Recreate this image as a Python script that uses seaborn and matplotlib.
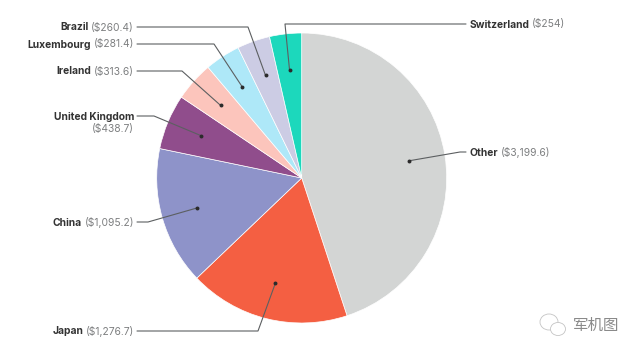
import numpy as np
import seaborn as sns
import matplotlib.pyplot as plt
from matplotlib.patches import Ellipse

countries = ["Other", "Japan", "China", "United Kingdom", "Ireland", "Luxembourg", "Brazil", "Switzerland"]
values = [3199.6, 1276.7, 1095.2, 438.7, 313.6, 281.4, 260.4, 254]
value_labels = ["($3,199.6)", "($1,276.7)", "($1,095.2)", "($438.7)", "($313.6)", "($281.4)", "($260.4)", "($254)"]
colors = ["#d3d5d4", "#f45f42", "#8e93c9", "#904d8c", "#fcc5bc", "#aee8f8", "#cccce4", "#1cd8bc"]

sns.set_theme(style="white")
plt.rcParams['font.family'] = ['Inter', 'DejaVu Sans']

W, H = 640, 353
fig, ax = plt.subplots(figsize=(W / 100, H / 100), dpi=100)
fig.subplots_adjust(left=0, right=1, top=1, bottom=0)

# work in pixels, y flipped by hand
def py(y):
    return H - y

cx, cy, R = 301.7, py(178), 145
wedges, _ = ax.pie(values, colors=sns.color_palette(colors), startangle=90, counterclock=False,
                   center=(cx, cy), radius=R, frame=True,
                   wedgeprops=dict(edgecolor="white", linewidth=0.5))
ax.set_xlim(0, W)
ax.set_ylim(0, H)
ax.set_aspect("equal")
ax.axis("off")

# label layout: elbow x, elbow y, line end x, text x
layout = {
    "Other": (460, 152, 466, 470),
    "Japan": (258, 331, 137, 134),
    "China": (148, 222, 137, 134),
    "United Kingdom": (154, 116, 137, 134),
    "Ireland": (182, 71, 137, 134),
    "Luxembourg": (214, 44, 137, 134),
    "Brazil": (248, 27, 137, 134),
    "Switzerland": (285, 24, 466, 470),
}
FS = 7.4
renderer = fig.canvas.get_renderer()

for name, lab, w in zip(countries, value_labels, wedges):
    mid = np.deg2rad((w.theta1 + w.theta2) / 2)
    dx, dy = cx + 0.75 * R * np.cos(mid), cy + 0.75 * R * np.sin(mid)
    ex, ey, lx, tx = layout[name]
    ax.plot([dx, ex, lx], [dy, py(ey), py(ey)], color="#5c5f61", lw=0.8, zorder=5)
    ax.scatter([dx], [dy], s=8, color="#2b2b2b", zorder=6, linewidths=0)

    ty = py(ey + 0.5)
    if name == "United Kingdom":
        ax.text(tx, ty, name, ha="right", va="center", fontsize=FS, fontweight="bold", color="#333333")
        ax.text(tx, py(ey + 13), lab, ha="right", va="center", fontsize=FS, color="#7d7f80")
    elif tx > 300:
        t = ax.text(tx, ty, name, ha="left", va="center", fontsize=FS, fontweight="bold", color="#333333")
        bb = t.get_window_extent(renderer)
        ax.text(bb.x1 + 2, ty, lab, ha="left", va="center", fontsize=FS, color="#7d7f80")
    else:
        t = ax.text(tx, ty, lab, ha="right", va="center", fontsize=FS, color="#7d7f80")
        bb = t.get_window_extent(renderer)
        ax.text(bb.x0 - 2.5, ty, name, ha="right", va="center", fontsize=FS, fontweight="bold", color="#333333")

# watermark
ax.text(573, py(325), "军机图", ha="left", va="center", fontsize=11.2, color="#8a8a8a",
        family=['Noto Sans CJK SC', 'DejaVu Sans'])
ax.add_patch(Ellipse((549, py(322)), 18, 16, fill=False, ec="#c4c4c4", lw=0.6))
ax.add_patch(Ellipse((558, py(329)), 15, 13, fc="white", ec="#c4c4c4", lw=0.6))

fig.savefig("out.png", dpi=100)
